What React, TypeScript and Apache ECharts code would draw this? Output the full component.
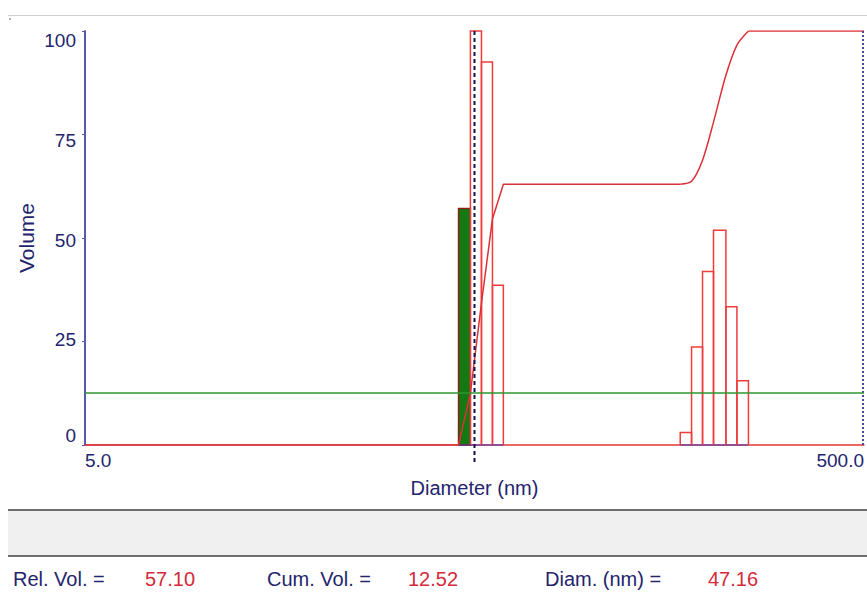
import React, { useEffect, useRef } from 'react';
import * as echarts from 'echarts';

// ---- data ----
const binStart = [45.5, 48.8, 52.1, 55.6, 168.7, 180.4, 192.5, 205.4, 221.0, 235.9];
const binEnd = [48.8, 52.1, 55.6, 59.3, 180.4, 192.5, 205.4, 221.0, 235.9, 252.5];
const binVolume = [57.1, 100, 92.5, 38.6, 3.0, 23.7, 41.9, 51.9, 33.4, 15.5];
const selectedBin = 0;

const cumDiam = [5, 45.5, 48.8, 52.1, 55.6, 59.3, 168.7, 180.4, 192.5, 205.4, 221.0, 235.9, 252.5, 500];
const cumVolume = [0, 0, 12.5, 34.3, 54.6, 63.0, 63.0, 63.7, 68.8, 78.0, 89.3, 96.6, 100, 100];
const cumSmoothFrom = 6; // the second mode's S-curve is drawn smoothed
const cumSmoothTo = 12;

const xTickValues = [5, 500];
const xTickLabels = ['5.0', '500.0'];
const yMin = 0;
const yMax = 100;
const yInterval = 25;

const cursorDiam = 50;
const rightLimit = 500;
const cumLevel = 12.52;

const readoutNames = ['Rel. Vol. =', 'Cum. Vol. =', 'Diam. (nm) ='];
const readoutValues = ['57.10', '12.52', '47.16'];

const FONT = 'Liberation Sans, Arial, sans-serif';
const NAVY = '#24246e';
const RED_TXT = '#d42a3a';
const CUM_RED = '#dc3036';

export default function App() {
  const ref = useRef<HTMLDivElement>(null);

  useEffect(() => {
    if (!ref.current) return;
    const chart = echarts.init(ref.current, undefined, { renderer: 'svg' });

    const barData = binStart.map((s, i) => [s, binEnd[i], binVolume[i], i === selectedBin ? 1 : 0]);
    const cumData = cumDiam.map((d, i) => [d, cumVolume[i]]);

    const readoutX = [13, 267, 545];
    const valueX = [145, 408, 708];

    const graphics: any[] = [
      { type: 'line', shape: { x1: 8, y1: 15.5, x2: 867, y2: 15.5 }, style: { stroke: '#d0d0d0', lineWidth: 1 }, silent: true },
      { type: 'rect', shape: { x: 9, y: 18, width: 2, height: 2 }, style: { fill: '#b0b0b0' }, silent: true },
      { type: 'rect', shape: { x: 8, y: 510, width: 859, height: 46 }, style: { fill: '#f0f0f0' }, silent: true },
      { type: 'line', shape: { x1: 8, y1: 510, x2: 867, y2: 510 }, style: { stroke: '#404040', lineWidth: 1.5 }, silent: true },
      { type: 'line', shape: { x1: 8, y1: 556, x2: 867, y2: 556 }, style: { stroke: '#404040', lineWidth: 1.5 }, silent: true },
    ];
    readoutNames.forEach((n, i) => {
      graphics.push({
        type: 'text', x: readoutX[i], y: 579,
        style: { text: n, fill: NAVY, font: `20px ${FONT}`, verticalAlign: 'middle' },
      });
      graphics.push({
        type: 'text', x: valueX[i], y: 579,
        style: { text: readoutValues[i], fill: RED_TXT, font: `20px ${FONT}`, verticalAlign: 'middle' },
      });
    });

    const yRich: any = {
      t100: { padding: [0, 0, 0, 0] },
      t75: { padding: [11, 0, 0, 0] },
      t50: { padding: [4, 0, 0, 0] },
      t25: { padding: [0, 0, 5, 0] },
      t0: { padding: [0, 0, 0, 0] },
    };

    const cumLine = (data: any[], smooth: number | boolean, extra: any = {}) => ({
      type: 'line',
      data,
      showSymbol: false,
      symbol: 'none',
      smooth,
      z: 3,
      lineStyle: { color: CUM_RED, width: 1.5 },
      ...extra,
    });

    const option: any = {
      animation: false,
      backgroundColor: '#ffffff',
      grid: { left: 85, right: 2, top: 31, bottom: 155, containLabel: false },
      xAxis: {
        type: 'log',
        logBase: 10,
        min: 5,
        max: 500,
        name: 'Diameter (nm)',
        nameLocation: 'middle',
        nameGap: 33,
        nameMoveOverlap: false,
        nameTextStyle: { color: NAVY, fontSize: 20, fontFamily: FONT },
        axisLine: { show: true, lineStyle: { color: '#e83434', width: 1.5 } },
        axisTick: { show: false },
        splitLine: { show: false },
        minorTick: { show: false },
        axisLabel: {
          customValues: xTickValues,
          formatter: (v: number) => {
            const i = xTickValues.findIndex((t) => Math.abs(t - v) / t < 0.01);
            return i >= 0 ? xTickLabels[i] : '';
          },
          color: NAVY,
          fontSize: 19,
          fontFamily: FONT,
          margin: 6,
          alignMinLabel: 'left',
          alignMaxLabel: 'right',
        },
      },
      yAxis: {
        type: 'value',
        min: yMin,
        max: yMax,
        interval: yInterval,
        name: 'Volume',
        nameLocation: 'middle',
        nameRotate: 90,
        nameGap: 48,
        nameMoveOverlap: false,
        nameTextStyle: { color: NAVY, fontSize: 21, fontFamily: FONT },
        axisLine: { show: true, lineStyle: { color: '#5858b0', width: 2 } },
        axisTick: { show: true, length: 3, lineStyle: { color: '#5858b0' } },
        splitLine: { show: false },
        axisLabel: {
          color: NAVY,
          fontSize: 19,
          fontFamily: FONT,
          margin: 9,
          verticalAlignMinLabel: 'bottom',
          verticalAlignMaxLabel: 'top',
          formatter: (v: number) => `{t${v}|${v}}`,
          rich: yRich,
        },
      },
      series: [
        {
          type: 'custom',
          name: 'bins',
          data: barData,
          encode: { x: [0, 1], y: 2 },
          z: 2,
          renderItem: (params: any, api: any) => {
            const x0 = api.value(0);
            const x1 = api.value(1);
            const v = api.value(2);
            const sel = api.value(3);
            const p0 = api.coord([x0, v]);
            const p1 = api.coord([x1, 0]);
            const children: any[] = [];
            if (sel) {
              children.push({
                type: 'rect',
                shape: { x: p0[0], y: p0[1], width: p1[0] - p0[0], height: p1[1] - p0[1] },
                style: { fill: '#137a13', stroke: '#8a2010', lineWidth: 1.5 },
              });
            } else {
              children.push({
                type: 'polyline',
                shape: { points: [[p0[0], p1[1]], [p0[0], p0[1]], [p1[0], p0[1]], [p1[0], p1[1]]] },
                style: { stroke: '#f03c3c', fill: 'none', lineWidth: 1.5 },
              });
            }
            children.push({
              type: 'line',
              shape: { x1: p0[0], y1: p1[1], x2: p1[0], y2: p1[1] },
              style: { stroke: '#3a3ac0', lineWidth: 1 },
            });
            return { type: 'group', children };
          },
        },
        cumLine(cumData.slice(0, cumSmoothFrom + 1), false, {
          name: 'cumulative',
          markLine: {
            silent: true,
            symbol: 'none',
            label: { show: false },
            lineStyle: { color: '#2e962e', type: 'solid', width: 1.5 },
            data: [{ yAxis: cumLevel }],
          },
        }),
        cumLine(cumData.slice(cumSmoothFrom, cumSmoothTo + 1), 0.3, { name: 'cumulative2' }),
        cumLine(cumData.slice(cumSmoothTo), false, { name: 'cumulative3' }),
        {
          type: 'custom',
          name: 'markers',
          data: [[cursorDiam, 0], [rightLimit, 1]],
          encode: { x: 0 },
          clip: false,
          z: 4,
          renderItem: (params: any, api: any) => {
            const x = api.value(0);
            const kind = api.value(1);
            const top = api.coord([x, yMax]);
            const bot = api.coord([x, yMin]);
            if (kind === 0) {
              return {
                type: 'line',
                shape: { x1: top[0], y1: top[1], x2: bot[0], y2: bot[1] + 17 },
                style: { stroke: '#121250', lineWidth: 2, lineDash: [4, 3] },
              };
            }
            return {
              type: 'line',
              shape: { x1: top[0] - 1, y1: top[1], x2: bot[0] - 1, y2: bot[1] },
              style: { stroke: '#4a4a9a', lineWidth: 2, lineDash: [2, 2] },
            };
          },
        },
      ],
      graphic: graphics,
    };

    chart.setOption(option);
    return () => chart.dispose();
  }, []);

  return (
    <div
      ref={ref}
      style={{ position: 'fixed', left: 0, top: 0, width: 867, height: 600, background: '#fff' }}
    />
  );
}
